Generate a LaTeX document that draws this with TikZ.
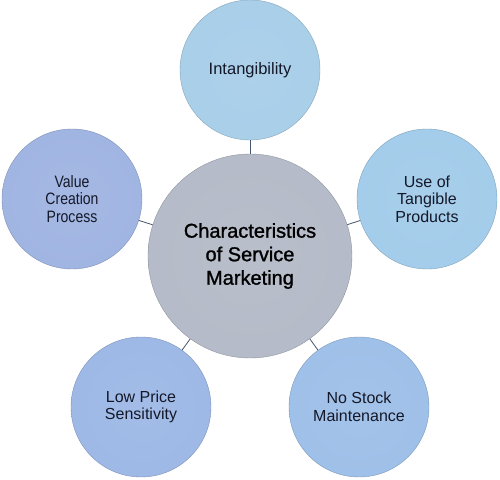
\documentclass[tikz,border=0pt]{standalone}
\usepackage{fontspec}
\setmainfont{Liberation Sans}
\newfontfamily\hubfont[FakeBold=1.2]{Liberation Sans}
\newfontfamily\narrowfont[FakeStretch=0.85]{Liberation Sans}

\definecolor{hubgray}{RGB}{180,186,199}
\definecolor{skyblue}{RGB}{168,206,233}
\definecolor{paleblue}{RGB}{162,204,234}
\definecolor{lavblue}{RGB}{160,180,226}
\definecolor{softblue}{RGB}{157,184,230}
\definecolor{midblue}{RGB}{158,191,232}
\definecolor{textnavy}{RGB}{20,24,40}
\definecolor{linkgray}{RGB}{70,86,108}
\colorlet{bubcol}{skyblue}

% flat fill with a darker rim near the edge
\pgfdeclareradialshading[bubcol]{bubrim}{\pgfpointorigin}{color(0bp)=(bubcol!94!white); color(30bp)=(bubcol); color(45bp)=(bubcol); color(50bp)=(bubcol!78!black)}

\tikzset{
  bubble/.style={circle, minimum size=140pt, inner sep=0pt, align=center,
    text=textnavy, /utils/exec={\colorlet{bubcol}{#1}}, shading=bubrim, shade,
    draw=#1!80!black, line width=.4pt,
    font=\fontsize{16}{17.6}\selectfont},
  hub/.style={bubble=hubgray, minimum size=204pt, text=black,
    font=\hubfont\fontsize{20}{23.5}\selectfont},
  link/.style={draw=linkgray, line width=.8pt}
}

\begin{document}
\begin{tikzpicture}[x=1pt, y=1pt]
  % fix the page to the reference size
  \useasboundingbox (0, 0) rectangle (500, 479);
  % Draw the centre and the five outer circles
  \node [hub] (hub) at (250, 223) {Characteristics\\of Service\\Marketing};
  \node [bubble=skyblue, font=\fontsize{16.5}{18}\selectfont] (intang) at (250, 409) {Intangibility};
  \node [bubble=paleblue] (tangible) at (427, 280) {Use of\\Tangible\\Products};
  \node [bubble=midblue] (stock) at (359, 72) {No Stock\\Maintenance};
  \node [bubble=softblue] (price) at (141, 72) {Low Price\\Sensitivity};
  \node [bubble=lavblue, font=\narrowfont\fontsize{16.5}{17.6}\selectfont] (value) at (72, 280) {Value\\Creation\\Process};
  % Draw links from the centre
  \draw [link] (hub) -- (intang);
  \draw [link] (hub) -- (tangible);
  \draw [link] (hub) -- (stock);
  \draw [link] (hub) -- (price);
  \draw [link] (hub) -- (value);
\end{tikzpicture}
\end{document}
